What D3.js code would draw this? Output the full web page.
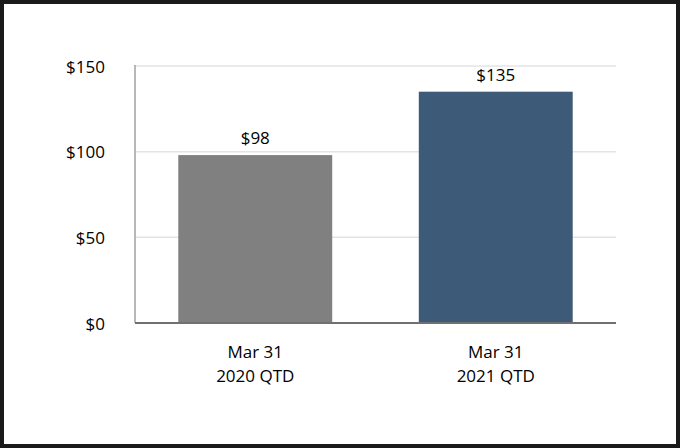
<!DOCTYPE html>
<html>
<head>
<meta charset="utf-8">
<script src="https://cdn.jsdelivr.net/npm/d3@7"></script>
<style>
  body { margin: 0; background: #fff; }
  text { font-family: 'Open Sans', sans-serif; fill: #000; font-weight: 500; }
</style>
</head>
<body>
<div id="chart"></div>
<script>
const categories = ['2020', '2021'];
const labelLine1 = ['Mar 31', 'Mar 31'];
const labelLine2 = ['2020 QTD', '2021 QTD'];
const values = [98, 135];
const barColors = ['#808080', '#3d5a78'];
const yTicks = [0, 50, 100, 150];

const width = 680, height = 448;
const margin = { top: 66, right: 64, bottom: 125, left: 135 };

const svg = d3.select('#chart').append('svg')
  .attr('width', width)
  .attr('height', height);

// frame
svg.append('rect')
  .attr('x', 2).attr('y', 2)
  .attr('width', width - 4).attr('height', height - 4)
  .attr('fill', 'none')
  .attr('stroke', '#1a1a1a')
  .attr('stroke-width', 4);

const x = d3.scaleBand()
  .domain(categories)
  .range([margin.left, width - margin.right])
  .paddingInner(0.36)
  .paddingOuter(0.18);

const y = d3.scaleLinear()
  .domain([0, 150])
  .range([height - margin.bottom, margin.top]);

// gridlines
svg.append('g')
  .selectAll('line')
  .data(yTicks.filter(d => d > 0))
  .join('line')
  .attr('x1', margin.left)
  .attr('x2', width - margin.right)
  .attr('y1', d => y(d))
  .attr('y2', d => y(d))
  .attr('stroke', '#e4e4e4')
  .attr('stroke-width', 1.5);

// y labels
svg.append('g')
  .selectAll('text')
  .data(yTicks)
  .join('text')
  .attr('x', margin.left - 30)
  .attr('y', d => y(d))
  .attr('dy', '0.4em')
  .attr('text-anchor', 'end')
  .style('font-size', '17px')
  .text(d => '$' + d);

// left axis line
svg.append('line')
  .attr('x1', margin.left).attr('x2', margin.left)
  .attr('y1', y(150) - 1).attr('y2', y(0))
  .attr('stroke', '#a0a0a0')
  .attr('stroke-width', 1.5);

// bars
svg.append('g')
  .selectAll('rect')
  .data(values)
  .join('rect')
  .attr('x', (d, i) => x(categories[i]))
  .attr('y', d => y(d))
  .attr('width', x.bandwidth())
  .attr('height', d => y(0) - y(d))
  .attr('fill', (d, i) => barColors[i]);

// baseline
svg.append('line')
  .attr('x1', margin.left).attr('x2', width - margin.right)
  .attr('y1', y(0)).attr('y2', y(0))
  .attr('stroke', '#707070')
  .attr('stroke-width', 2);

// value labels
svg.append('g')
  .selectAll('text')
  .data(values)
  .join('text')
  .attr('x', (d, i) => x(categories[i]) + x.bandwidth() / 2)
  .attr('y', d => y(d) - 11)
  .attr('text-anchor', 'middle')
  .style('font-size', '17px')
  .text(d => '$' + d);

// category labels
const cat = svg.append('g')
  .selectAll('text')
  .data(categories)
  .join('text')
  .attr('x', d => x(d) + x.bandwidth() / 2)
  .attr('y', y(0) + 35)
  .attr('text-anchor', 'middle')
  .style('font-size', '17px');

cat.append('tspan')
  .attr('x', d => x(d) + x.bandwidth() / 2)
  .text((d, i) => labelLine1[i]);
cat.append('tspan')
  .attr('x', d => x(d) + x.bandwidth() / 2)
  .attr('dy', 24)
  .text((d, i) => labelLine2[i]);
</script>
</body>
</html>
